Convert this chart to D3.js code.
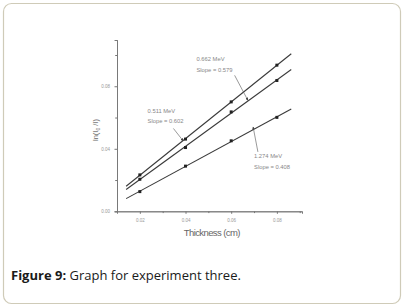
<!doctype html>
<html lang="en">
  <head>
    <meta charset="utf-8">
    <title>Figure 9</title>
    <style>
      body{margin:0;background:#fff;}
      .holder{width:404px;height:307px;}
    </style>
  </head>
  <body>
    <div class="holder"></div>
    <script src="https://cdn.jsdelivr.net/npm/d3@7"></script>
    <script>

      // thickness (cm)
      var thickness = [0.02, 0.04, 0.06, 0.08];

      // ln(I0/I) for each energy
      var series662 = [0.0233, 0.0462, 0.0700, 0.0935];
      var series511 = [0.0205, 0.0408, 0.0636, 0.0837];
      var series1274 = [0.0126, 0.0289, 0.0451, 0.0601];

      var energies = ["0.662 MeV", "0.511 MeV", "1.274 MeV"];
      var slopes = ["Slope = 0.579", "Slope = 0.602", "Slope = 0.408"];

      var xMajor = [0.02, 0.04, 0.06, 0.08];
      var xMinor = [0.03, 0.05, 0.07, 0.09];
      var yMajor = [0.00, 0.04, 0.08];
      var yMinor = [0.02, 0.06, 0.10];

      var W = 404, H = 307;

      var svg = d3.select(".holder").append("svg")
          .attr("width", W)
          .attr("height", H);

      // rounded frame
      svg.append("rect")
          .attr("x", 3.5).attr("y", 3.5)
          .attr("width", W - 7).attr("height", H - 7)
          .attr("rx", 8)
          .style("fill", "#fff")
          .style("stroke", "#cfcbb8")
          .style("stroke-width", 1.2);

      var x = d3.scaleLinear().domain([0.01, 0.091]).range([117, 302]);
      var y = d3.scaleLinear().domain([0, 0.1096]).range([211.3, 40]);

      var ink = "#3a3a3a", grey = "#777";

      // axes
      var xAxis = svg.append("g").attr("transform", "translate(0,211.3)")
          .call(d3.axisBottom(x).tickValues(xMajor).tickSize(2.5).tickFormat(d3.format(".2f")));
      svg.append("g").attr("transform", "translate(0,211.3)")
          .call(d3.axisBottom(x).tickValues(xMinor).tickSize(1.8).tickFormat(""));
      var yAxis = svg.append("g").attr("transform", "translate(117,0)")
          .call(d3.axisLeft(y).tickValues(yMajor).tickSize(2.5).tickFormat(d3.format(".2f")));
      svg.append("g").attr("transform", "translate(117,0)")
          .call(d3.axisLeft(y).tickValues(yMinor).tickSize(1.8).tickFormat(""));

      svg.selectAll(".domain").style("stroke", grey).style("stroke-width", 0.9);
      svg.selectAll(".tick line").style("stroke", grey);
      svg.selectAll(".tick text")
          .style("fill", "#999")
          .style("font-family", "Liberation Sans, Arial, sans-serif")
          .style("font-size", "4.5px");
      xAxis.selectAll(".tick text").attr("y", 8);
      yAxis.selectAll(".tick text").attr("x", -7).attr("dy", "0.35em");

      // axis titles
      svg.append("text")
          .attr("x", x(0.0515)).attr("y", 236)
          .attr("text-anchor", "middle")
          .style("font-family", "Liberation Sans, Arial, sans-serif")
          .style("font-size", "9.5px")
          .style("fill", "#666")
          .style("letter-spacing", "-0.6px")
          .text("Thickness (cm)");

      var yl = svg.append("text")
          .attr("transform", "translate(98," + y(0.052) + ") rotate(-90)")
          .attr("text-anchor", "middle")
          .style("font-family", "Liberation Sans, Arial, sans-serif")
          .style("font-size", "7.5px")
          .style("fill", "#666");
      yl.append("tspan").text("ln(I");
      yl.append("tspan").attr("dy", 2).style("font-size", "5px").text("0");
      yl.append("tspan").attr("dy", -2).text(" /I)");

      // fitted lines + points
      var allSeries = [series662, series511, series1274];

      function fit(vals) {
        var mx = d3.mean(thickness), my = d3.mean(vals);
        var num = d3.sum(thickness, function(t, i){ return (t - mx) * (vals[i] - my); });
        var den = d3.sum(thickness, function(t){ return (t - mx) * (t - mx); });
        var b = num / den;
        return {b: b, a: my - b * mx};
      }

      var line = d3.line()
          .x(function(d){ return x(d[0]); })
          .y(function(d){ return y(d[1]); });

      allSeries.forEach(function(vals){
        var f = fit(vals);
        var ends = [0.014, 0.0863].map(function(t){ return [t, f.a + f.b * t]; });
        svg.append("path")
            .attr("d", line(ends))
            .style("fill", "none")
            .style("stroke", ink)
            .style("stroke-width", 1.1);
        svg.selectAll(null)
            .data(thickness)
            .enter().append("rect")
            .attr("x", function(t){ return x(t) - 1.5; })
            .attr("y", function(t, i){ return y(vals[i]) - 1.5; })
            .attr("width", 3).attr("height", 3)
            .style("fill", "#222");
      });

      // annotations: label position and arrow (in data units)
      var notes = [
        {lx: 0.0448, ly: 0.096, from: [0.0615, 0.087], to: [0.0673, 0.071]},
        {lx: 0.0234, ly: 0.063, from: [0.0347, 0.053], to: [0.0390, 0.045]},
        {lx: 0.0700, ly: 0.034, from: [0.0717, 0.038], to: [0.0696, 0.054]}
      ];

      svg.append("defs").append("marker")
          .attr("id", "arr")
          .attr("viewBox", "0 0 10 10")
          .attr("refX", 9).attr("refY", 5)
          .attr("markerWidth", 5).attr("markerHeight", 5)
          .attr("orient", "auto")
          .append("path").attr("d", "M0,0L10,5L0,10z").style("fill", "#444");

      notes.forEach(function(n, i){
        var g = svg.append("g")
            .style("font-family", "Liberation Sans, Arial, sans-serif")
            .style("font-size", "5.8px")
            .style("fill", "#888");
        g.append("text").attr("x", x(n.lx)).attr("y", y(n.ly)).text(energies[i]);
        g.append("text").attr("x", x(n.lx)).attr("y", y(n.ly) + 10.5).text(slopes[i]);
        svg.append("line")
            .attr("x1", x(n.from[0])).attr("y1", y(n.from[1]))
            .attr("x2", x(n.to[0])).attr("y2", y(n.to[1]))
            .style("stroke", "#555")
            .style("stroke-width", 0.6)
            .attr("marker-end", "url(#arr)");
      });

      // caption
      var cap = svg.append("text")
          .attr("x", 11).attr("y", 280)
          .style("font-family", "Open Sans, sans-serif")
          .style("font-size", "13px")
          .style("fill", "#1a1a1a");
      cap.append("tspan").style("font-weight", "bold").text("Figure 9:");
      cap.append("tspan").text(" Graph for experiment three.");

    </script>
  </body>
</html>
